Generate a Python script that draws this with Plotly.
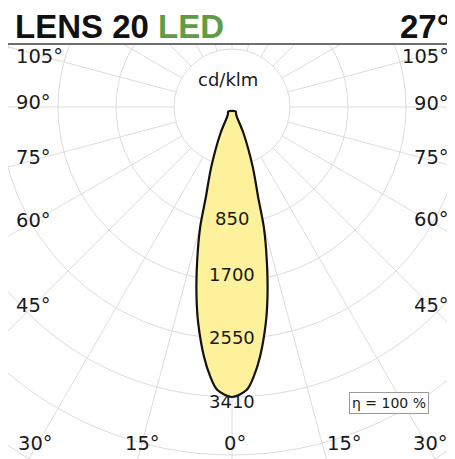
import numpy as np
import plotly.graph_objects as go

# ---- data (cd/klm vs. angle from nadir, symmetric beam) ----
angles_deg = [0, 3, 4.6, 6.4, 8.9, 10.7, 12.7, 14.8, 16.2, 19.1, 23.6, 26.3, 30, 40]
intensity = [3410, 3330, 3180, 2955, 2570, 2250, 1865, 1470, 1100, 745, 340, 130, 95, 70]

ring_values = [682, 1364, 2046, 2728, 3410, 4092, 4774]
ring_label_values = [1364, 2046, 2728, 3410]
ring_labels = ["850", "1700", "2550", "3410"]
ring_label_shift = [5, 7, 2, -4]   # pixel nudges of the ring labels
spoke_angles = list(range(0, 360, 15))

left_labels = ["105°", "90°", "75°", "60°", "45°"]
right_labels = ["105°", "90°", "75°", "60°", "45°"]
bottom_labels = ["30°", "15°", "0°", "15°", "30°"]

title_main = "LENS 20 "
title_colored = "LED"
title_right = "27°"
unit_text = "cd/klm"
eta_text = "η = 100 %"

# ---- layout geometry (page pixels; the page body has an 8px margin) ----
OFF = 8
PW, PH = 455, 459                 # window
W, H = PW - OFF, PH - OFF         # figure size
PL, PR, PT, PB = 8, 454, 45, 459  # plot area in page pixels
ML, MR, MT, MB = PL - OFF, PW - PR, PT - OFF, 0
CX, CY = 232, 107                 # page pixel centre of the polar diagram
U = 3410 / 290.0                  # cd/klm per pixel

x_range = [-(CX - PL) * U, (PR - CX) * U]
y_range = [-(PB - CY) * U, (CY - PT) * U]

def px(xp):
    return (xp - PL) / (PR - PL)

def py(yp):
    return (PB - yp) / (PB - PT)

fig = go.Figure()

GRID = "#dcdcdc"

# spokes
sx, sy = [], []
for a in spoke_angles:
    t = np.radians(a)
    sx += [ring_values[0] * np.sin(t), 8000 * np.sin(t), None]
    sy += [-ring_values[0] * np.cos(t), -8000 * np.cos(t), None]
fig.add_trace(go.Scatter(x=sx, y=sy, mode="lines", line=dict(color=GRID, width=1),
                         hoverinfo="skip", showlegend=False))

# rings
for r in ring_values:
    fig.add_shape(type="circle", xref="x", yref="y", x0=-r, y0=-r, x1=r, y1=r,
                  line=dict(color=GRID, width=1), layer="below")

# curve
th = [-a for a in reversed(angles_deg[1:])] + angles_deg
ii = list(reversed(intensity[1:])) + intensity
th = np.radians(th)
ii = np.array(ii, dtype=float)
cx = ii * np.sin(th)
cy = -ii * np.cos(th)
cx = np.append(cx, cx[0])
cy = np.append(cy, cy[0])
fig.add_trace(go.Scatter(x=cx, y=cy, mode="lines", fill="toself",
                         fillcolor="#fdf19c",
                         line=dict(color="#111111", width=2.2, shape="spline", smoothing=0.9),
                         hoverinfo="skip", showlegend=False))

annotations = []
lab_font = dict(family="DejaVu Sans", size=19.5, color="#1a1a1a")
for txt, yv in zip(left_labels, [56, 103, 157, 220, 305]):
    annotations.append(dict(x=px(14), y=py(yv), xref="paper", yref="paper", text=txt,
                            showarrow=False, xanchor="left", yanchor="middle", font=lab_font))
for txt, yv in zip(right_labels, [56, 104, 157, 219, 305]):
    annotations.append(dict(x=px(451), y=py(yv), xref="paper", yref="paper", text=txt,
                            showarrow=False, xanchor="right", yanchor="middle", font=lab_font))
for txt, xv in zip(bottom_labels, [35, 142, 235, 344, 430]):
    annotations.append(dict(x=px(xv), y=py(443), xref="paper", yref="paper", text=txt,
                            showarrow=False, xanchor="center", yanchor="middle", font=lab_font))

ring_font = dict(family="DejaVu Sans", size=18, color="#1a1a1a")
for txt, v, s in zip(ring_labels, ring_label_values, ring_label_shift):
    annotations.append(dict(x=0, y=-v, xref="x", yref="y", text=txt, showarrow=False,
                            xanchor="center", yanchor="middle", yshift=s, font=ring_font))

annotations.append(dict(x=px(228), y=py(79), xref="paper", yref="paper", text=unit_text,
                        showarrow=False, xanchor="center", yanchor="middle", font=ring_font))

annotations.append(dict(x=px(389), y=py(403), xref="paper", yref="paper", text=eta_text,
                        showarrow=False, xanchor="center", yanchor="middle",
                        font=dict(family="DejaVu Sans", size=14, color="#1a1a1a"),
                        bgcolor="white", bordercolor="#9a9a9a", borderwidth=1, borderpad=2))

title_font = dict(family="Liberation Sans", size=33, color="#111111")
annotations.append(dict(x=px(13), y=py(26), xref="paper", yref="paper",
                        text="<b>" + title_main + "<span style='color:#5e9c45'>" + title_colored + "</span></b>",
                        showarrow=False, xanchor="left", yanchor="middle", font=title_font))
annotations.append(dict(x=px(452), y=py(26), xref="paper", yref="paper",
                        text="<b>" + title_right + "</b>",
                        showarrow=False, xanchor="right", yanchor="middle", font=title_font))

fig.update_layout(
    width=W, height=H,
    margin=dict(l=ML, r=MR, t=MT, b=MB, pad=0),
    paper_bgcolor="white", plot_bgcolor="white",
    showlegend=False,
    annotations=annotations,
    xaxis=dict(range=x_range, showgrid=False, zeroline=False, showticklabels=False,
               ticks="", showline=True, side="top", linecolor="#6e6e6e", linewidth=1.5,
               fixedrange=True),
    yaxis=dict(range=y_range, showgrid=False, zeroline=False, showticklabels=False,
               ticks="", showline=True, side="right", linecolor="#6e6e6e", linewidth=1.5,
               fixedrange=True),
)

fig.write_html("out.html")
